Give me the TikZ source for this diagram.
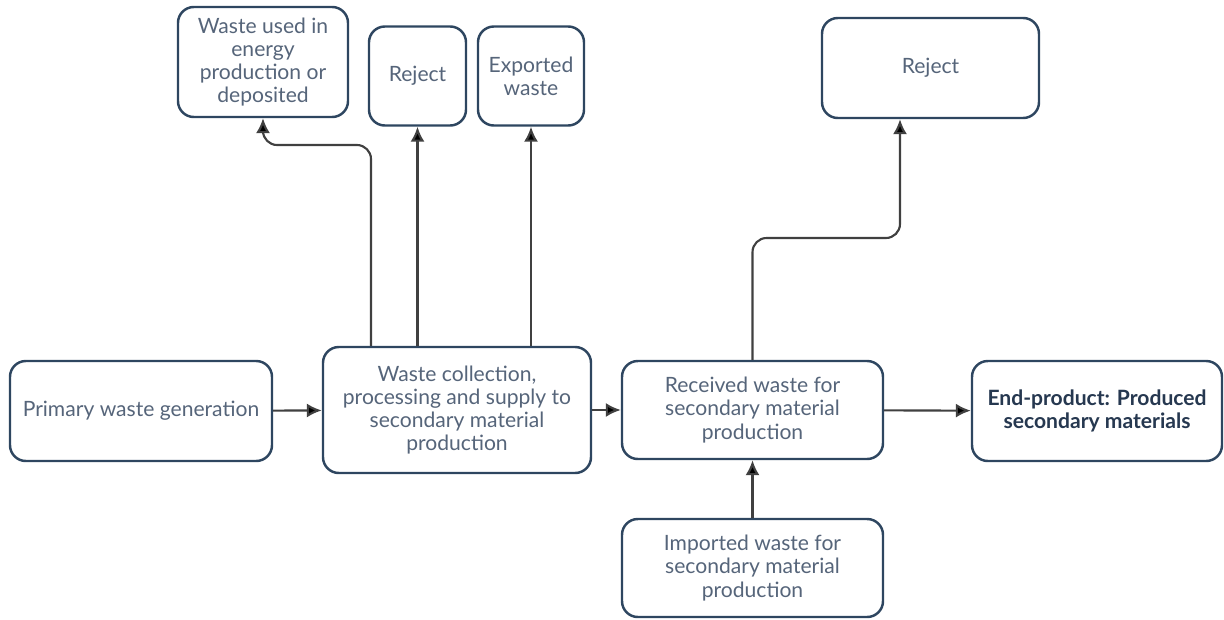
\documentclass[tikz,border=0pt]{standalone}
\usepackage{fontspec}
\setmainfont{Lato}
\usepackage{tikz}
\usetikzlibrary{positioning, arrows.meta, calc}

\definecolor{boxline}{HTML}{2E4660}
\definecolor{boxtext}{HTML}{56657A}
\definecolor{boldtext}{HTML}{263850}
\definecolor{arrowline}{HTML}{404040}

\begin{document}
\begin{tikzpicture}[
        block/.style={rectangle, draw=boxline, line width=1.4pt, rounded corners=9pt, fill=white,
            align=center, text=boxtext, font=\fontsize{12}{13.2}\selectfont, inner sep=2pt},
        connection/.style={-{Latex[length=8.5pt, width=8pt, fill=black]}, draw=arrowline, line width=1.2pt},
        elbow/.style={connection, rounded corners=8pt}
    ]
        \useasboundingbox (0,0) rectangle (24.48,-12.38);

        % Top row: outputs of the collection step
        \node[block, minimum width=3.4cm, minimum height=2.2cm] (used) at (5.26, -1.24)
            {Waste used in\\energy\\production or\\deposited};
        \node[block, minimum width=1.94cm, minimum height=1.98cm] (rej1) at (8.35, -1.52) {Reject};
        \node[block, minimum width=2.12cm, minimum height=1.98cm] (expo) at (10.62, -1.52) {Exported\\waste};

        % Top right: reject of secondary production
        \node[block, minimum width=4.34cm, minimum height=2.0cm] (rej2) at (18.61, -1.36) {Reject};

        % Main chain
        \node[block, minimum width=5.24cm, minimum height=2.0cm] (prim) at (2.82, -8.22) {Primary waste generation};
        \node[block, minimum width=5.36cm, minimum height=2.52cm] (coll) at (9.14, -8.2)
            {Waste collection,\\processing and supply to\\secondary material\\production};
        \node[block, minimum width=5.22cm, minimum height=1.96cm] (recv) at (15.05, -8.2)
            {Received waste for\\secondary material\\production};
        \node[block, minimum width=5.0cm, minimum height=2.0cm, text=boldtext, font=\fontsize{12}{13.2}\selectfont\bfseries]
            (endp) at (21.94, -8.22) {End-product: Produced\\secondary materials};

        % Imports
        \node[block, minimum width=5.22cm, minimum height=1.96cm] (impo) at (15.05, -11.36)
            {Imported waste for\\secondary material\\production};

        % Bend points
        \coordinate (turnA) at (7.42, -2.9);
        \coordinate (turnB) at (18.0, -4.76);

        % Connections along the chain
        \draw[connection] (prim) -- (coll);
        \draw[connection] (coll) -- (recv);
        \draw[connection] (recv) -- (endp);
        \draw[connection] (impo) -- (recv);

        % Connections to the top boxes
        \draw[elbow] (coll.north -| turnA) -- (turnA) -| (used.south);
        \draw[connection] (coll.north -| rej1.south) -- (rej1.south);
        \draw[connection] (coll.north -| expo.south) -- (expo.south);
        \draw[elbow] (recv.north) |- (turnB) -- (turnB |- rej2.south);
    \end{tikzpicture}
\end{document}
